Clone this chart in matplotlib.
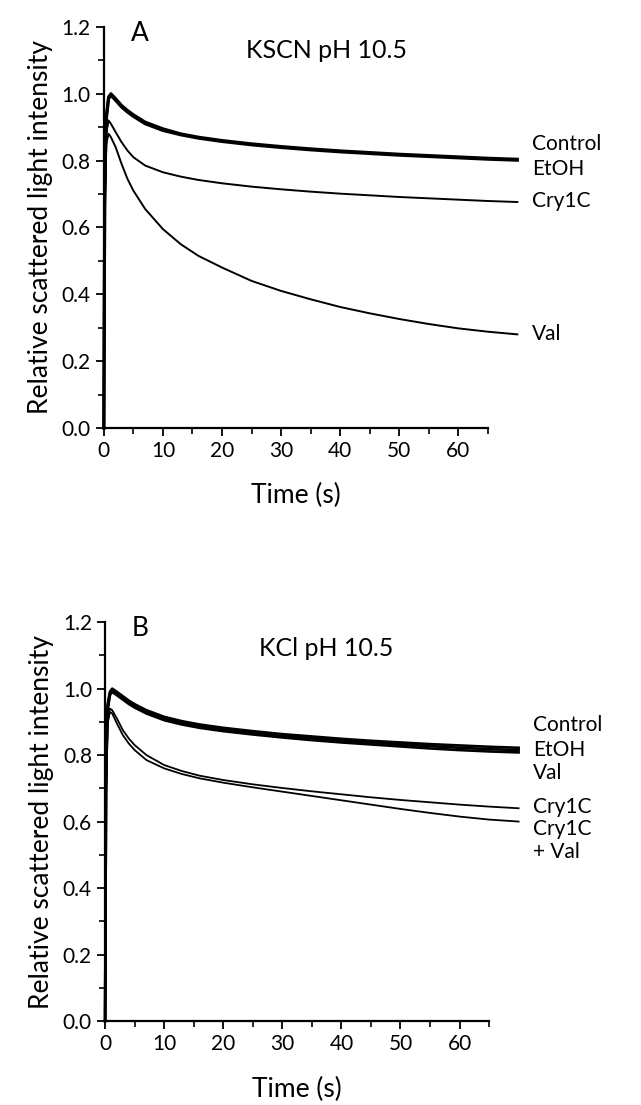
import matplotlib
matplotlib.use('Agg')
import matplotlib.pyplot as plt
from matplotlib.ticker import MultipleLocator

plt.rcParams['font.family'] = ['Lato', 'DejaVu Sans']

# time points (s) (traces run past the drawn axis end)
t = [0, 0.15, 0.4, 0.8, 1.2, 2, 3, 4, 5, 7, 10, 13, 16, 20, 25, 30, 35, 40, 45, 50, 55, 60, 65, 70]

# panel A: KSCN pH 10.5
a_control = [0.0, 0.70, 0.93, 0.99, 1.0, 0.985, 0.965, 0.95, 0.937, 0.915, 0.895, 0.88, 0.87, 0.86, 0.85, 0.842, 0.835, 0.829, 0.824, 0.819, 0.815, 0.811, 0.807, 0.804]
a_etoh = [0.0, 0.69, 0.92, 0.985, 0.995, 0.98, 0.96, 0.945, 0.932, 0.91, 0.89, 0.877, 0.867, 0.857, 0.847, 0.839, 0.832, 0.826, 0.821, 0.816, 0.812, 0.808, 0.804, 0.801]
a_cry1c = [0.0, 0.65, 0.88, 0.92, 0.91, 0.885, 0.855, 0.83, 0.81, 0.785, 0.765, 0.752, 0.742, 0.732, 0.722, 0.714, 0.707, 0.701, 0.696, 0.691, 0.687, 0.683, 0.679, 0.676]
a_val = [0.0, 0.62, 0.85, 0.88, 0.87, 0.84, 0.79, 0.745, 0.71, 0.655, 0.595, 0.55, 0.515, 0.48, 0.44, 0.41, 0.385, 0.362, 0.343, 0.326, 0.311, 0.298, 0.288, 0.28]

# panel B: KCl pH 10.5
b_control = [0.0, 0.72, 0.95, 0.99, 1.0, 0.99, 0.977, 0.964, 0.953, 0.935, 0.915, 0.902, 0.892, 0.882, 0.872, 0.863, 0.856, 0.849, 0.843, 0.838, 0.833, 0.829, 0.825, 0.822]
b_etoh = [0.0, 0.71, 0.94, 0.985, 0.995, 0.985, 0.972, 0.959, 0.948, 0.93, 0.91, 0.897, 0.887, 0.877, 0.867, 0.858, 0.851, 0.844, 0.838, 0.832, 0.827, 0.822, 0.818, 0.815]
b_val = [0.0, 0.70, 0.93, 0.98, 0.99, 0.98, 0.967, 0.954, 0.943, 0.925, 0.905, 0.892, 0.882, 0.872, 0.862, 0.853, 0.845, 0.838, 0.832, 0.826, 0.82, 0.815, 0.811, 0.808]
b_cry1c = [0.0, 0.68, 0.90, 0.94, 0.935, 0.91, 0.875, 0.85, 0.83, 0.80, 0.77, 0.752, 0.738, 0.725, 0.712, 0.701, 0.691, 0.682, 0.673, 0.665, 0.658, 0.651, 0.645, 0.64]
b_cry1c_val = [0.0, 0.67, 0.89, 0.93, 0.925, 0.895, 0.86, 0.835, 0.815, 0.785, 0.76, 0.743, 0.73, 0.717, 0.703, 0.69, 0.677, 0.664, 0.651, 0.638, 0.626, 0.615, 0.606, 0.60]

xticks = [0, 10, 20, 30, 40, 50, 60]
yticks = [0.0, 0.2, 0.4, 0.6, 0.8, 1.0, 1.2]


def style_axes(ax):
    ax.set_xlim(0, 65)
    ax.set_ylim(0, 1.2)
    ax.set_xticks(xticks)
    ax.set_yticks(yticks)
    ax.set_yticklabels(['%.1f' % v for v in yticks])
    ax.xaxis.set_minor_locator(MultipleLocator(5))
    ax.yaxis.set_minor_locator(MultipleLocator(0.1))
    ax.spines['top'].set_visible(False)
    ax.spines['right'].set_visible(False)
    ax.spines['left'].set_linewidth(1.6)
    ax.spines['bottom'].set_linewidth(1.6)
    ax.tick_params(which='major', direction='out', length=6, width=1.3, labelsize=15)
    ax.tick_params(which='minor', direction='out', length=4, width=1.2)
    ax.set_xlabel('Time (s)', fontsize=19, labelpad=16)
    ax.set_ylabel('Relative scattered light intensity', fontsize=19, labelpad=6)


fig = plt.figure(figsize=(6.41, 11.05), dpi=100)
ax1 = fig.add_axes([0.162, 0.6127, 0.599, 0.363])
ax2 = fig.add_axes([0.164, 0.076, 0.599, 0.361])

lab = dict(fontsize=15, va='center', clip_on=False)

#==============================================
# A
for y, lw in [(a_control, 2.2), (a_etoh, 2.2), (a_cry1c, 1.4), (a_val, 1.4)]:
    ax1.plot(t, y, color='black', lw=lw, clip_on=False)
style_axes(ax1)
ax1.text(4.5, 1.18, 'A', fontsize=19, va='center')
ax1.text(24, 1.13, 'KSCN pH 10.5', fontsize=18, va='center')
ax1.text(72.5, 0.85, 'Control', **lab)
ax1.text(72.5, 0.775, 'EtOH', **lab)
ax1.text(72.5, 0.678, 'Cry1C', **lab)
ax1.text(72.5, 0.28, 'Val', **lab)

#==============================================
# B
for y, lw in [(b_control, 1.9), (b_etoh, 1.9), (b_val, 1.9), (b_cry1c, 1.3), (b_cry1c_val, 1.3)]:
    ax2.plot(t, y, color='black', lw=lw, clip_on=False)
style_axes(ax2)
ax2.text(4.5, 1.18, 'B', fontsize=19, va='center')
ax2.text(26, 1.12, 'KCl pH 10.5', fontsize=18, va='center')
ax2.text(72.5, 0.89, 'Control', **lab)
ax2.text(72.5, 0.815, 'EtOH', **lab)
ax2.text(72.5, 0.745, 'Val', **lab)
ax2.text(72.5, 0.645, 'Cry1C', **lab)
ax2.text(72.5, 0.578, 'Cry1C', **lab)
ax2.text(72.5, 0.508, '+ Val', **lab)

fig.savefig('out.png', dpi=100)
